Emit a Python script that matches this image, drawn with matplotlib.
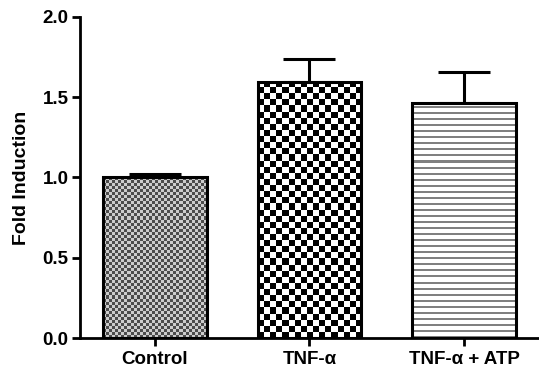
import numpy as np
import matplotlib
matplotlib.use("Agg")
import matplotlib.pyplot as plt

# datos
groups = ["Control", "TNF-α", "TNF-α + ATP"]
fold = [1.00, 1.595, 1.465]
sem = [0.02, 0.145, 0.19]

plt.rcParams['font.family'] = ['Liberation Sans', 'DejaVu Sans']
plt.rcParams['font.weight'] = 'bold'

fig = plt.figure(figsize=(5.39, 3.77), dpi=100)
ax = fig.add_axes([0.148, 0.1034, 0.852, 0.852])

x = np.arange(len(groups))
bars = ax.bar(x, fold, width=0.67, facecolor='none', edgecolor='black', linewidth=2.2, zorder=3)
ax.errorbar(x, fold, yerr=[np.zeros(3), sem], fmt='none', ecolor='black',
            elinewidth=2.2, capsize=19, capthick=2.2, zorder=1)

# texturas de las barras
def textura(kind, ny, nx):
    yy, xx = np.mgrid[0:ny, 0:nx]
    if kind == 'fine':
        img = np.where((xx + yy) % 2 == 0, 0.3, 0.8)
    elif kind == 'checker':
        img = np.where((xx + yy) % 2 == 0, 0.0, 1.0)
    else:
        img = np.where(yy % 6 < 2, 0.5, 1.0)
    return img

for b, kind in zip(bars, ['fine', 'checker', 'lines']):
    x0, w, h = b.get_x(), b.get_width(), b.get_height()
    hpx = int(h * 160)
    if kind == 'fine':
        img = textura(kind, hpx // 3, 103 // 3)
    elif kind == 'checker':
        img = textura(kind, hpx // 6, 103 // 6)
    else:
        img = textura(kind, hpx, 103)
    im = ax.imshow(img, cmap='gray', vmin=0, vmax=1, extent=(x0, x0 + w, 0, h),
                   aspect='auto', interpolation='nearest', origin='lower', zorder=2)
    im.set_clip_path(b)

ax.set_xlim(-0.485, 2.485)
ax.set_ylim(0, 2.0)
ax.set_yticks([0.0, 0.5, 1.0, 1.5, 2.0])
ax.set_yticklabels(['0.0', '0.5', '1.0', '1.5', '2.0'])
ax.set_xticks(x)
ax.set_xticklabels(groups, fontsize=13.5)
ax.set_ylabel('Fold Induction', fontsize=14, fontweight='bold', labelpad=9)
ax.tick_params(axis='both', width=2, length=6, pad=3)
ax.tick_params(axis='y', labelsize=13.5, pad=2)
for s in ['top', 'right']:
    ax.spines[s].set_visible(False)
for s in ['left', 'bottom']:
    ax.spines[s].set_linewidth(2)

fig.savefig("out.png", dpi=100)
